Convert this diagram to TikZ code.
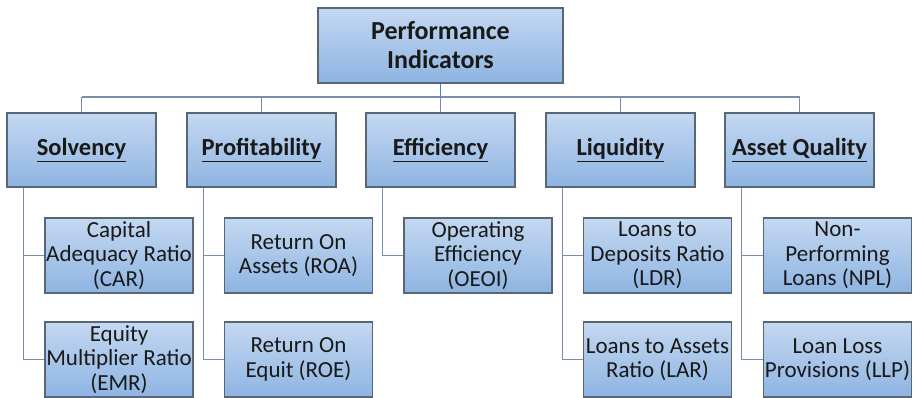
\documentclass[tikz,border=0pt]{standalone}
\usepackage{fontspec}
\setmainfont{Carlito}
\definecolor{boxtop}{RGB}{196,216,241}
\definecolor{boxbot}{RGB}{142,180,226}
\definecolor{boxline}{RGB}{88,102,118}
\definecolor{linkc}{RGB}{120,142,170}
\definecolor{toplink}{RGB}{79,129,189}
\definecolor{txt}{RGB}{25,25,25}
\tikzset{
  box/.style={draw=boxline, line width=1.1pt, shading=axis, top color=boxtop, bottom color=boxbot,
    inner xsep=0pt, inner ysep=0pt, align=center, text=txt},
  rootbox/.style={box, minimum width=245pt, minimum height=75pt, font=\fontsize{26}{29}\selectfont\bfseries},
  catbox/.style={box, minimum width=149pt, minimum height=74pt, font=\fontsize{24.5}{27}\selectfont\bfseries},
  leafbox/.style={box, minimum width=148pt, minimum height=75pt, font=\fontsize{23}{24.5}\selectfont},
  link/.style={draw=linkc, line width=1.2pt},
}
\begin{document}
\begin{tikzpicture}[x=1pt,y=-1pt]
\useasboundingbox (0,0) rectangle (917,397);
% root
\node[rootbox] (root) at (440.5,45.5) {Performance\\Indicators};
% categories
\node[catbox] (sol) at (81.5,150) {\underline{Solvency}};
\node[catbox] (pro) at (261.5,150) {\underline{Profitability}};
\node[catbox] (eff) at (440.5,150) {\underline{Efficiency}};
\node[catbox] (liq) at (620.5,150) {\underline{Liquidity}};
\node[catbox] (aq)  at (799.5,150) {\underline{Asset Quality}};
% leaves
\node[leafbox] (car) at (119,255.5) {Capital\\Adequacy Ratio\\(CAR)};
\node[leafbox] (emr) at (119,359.5) {Equity\\Multiplier Ratio\\(EMR)};
\node[leafbox] (roa) at (298.5,255.5) {Return On\\Assets (ROA)};
\node[leafbox] (roe) at (298.5,359.5) {Return On\\Equit (ROE)};
\node[leafbox] (oeoi) at (478,255.5) {Operating\\Efficiency\\(OEOI)};
\node[leafbox] (ldr) at (657.5,255.5) {Loans to\\Deposits Ratio\\(LDR)};
\node[leafbox] (lar) at (657.5,359.5) {Loans to Assets\\Ratio (LAR)};
\node[leafbox] (npl) at (837.5,255.5) {Non-\\Performing\\Loans (NPL)};
\node[leafbox] (llp) at (837.5,359.5) {Loan Loss\\Provisions (LLP)};
% bus
\coordinate (busL) at (81.5,97);
\coordinate (busR) at (799.5,97);
\draw[link] (busL) -- (busR);
\foreach \n in {sol,pro,eff,liq,aq} \draw[link] (\n.north) -- (\n.north |- busL);
\draw[draw=toplink, line width=1.2pt] (root.south) -- (root.south |- busL);
% children
\draw[link] ([xshift=17pt]sol.south west) |- (emr.west);
\draw[link] ([xshift=17pt]sol.south west |- car.west) -- (car.west);
\draw[link] ([xshift=17pt]pro.south west) |- (roe.west);
\draw[link] ([xshift=17pt]pro.south west |- roa.west) -- (roa.west);
\draw[link] ([xshift=17pt]eff.south west) |- (oeoi.west);
\draw[link] ([xshift=17pt]liq.south west) |- (lar.west);
\draw[link] ([xshift=17pt]liq.south west |- ldr.west) -- (ldr.west);
\draw[link] ([xshift=17pt]aq.south west) |- (llp.west);
\draw[link] ([xshift=17pt]aq.south west |- npl.west) -- (npl.west);
\end{tikzpicture}
\end{document}
